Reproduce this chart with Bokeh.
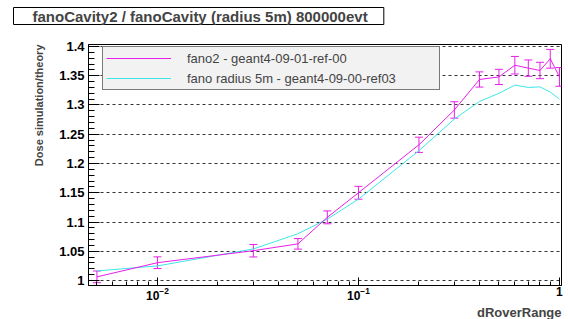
from bokeh.plotting import figure
from bokeh.models import (ColumnDataSource, Whisker, TeeHead, Title, Legend, LegendItem,
                          LogTicker, SingleIntervalTicker, CustomJSTickFormatter, Range1d)
from bokeh.embed import file_html
from bokeh.resources import INLINE

# ---- data ----
x_fano2 = [0.005, 0.01, 0.03, 0.05, 0.07, 0.1, 0.2, 0.3, 0.4, 0.5, 0.6, 0.7, 0.8, 0.9, 1.0]
y_fano2 = [1.0063, 1.0305, 1.051, 1.0627, 1.108, 1.150, 1.232, 1.2915, 1.3436, 1.348,
           1.368, 1.363, 1.359, 1.379, 1.348]
e_fano2 = [0.010, 0.010, 0.0107, 0.009, 0.011, 0.011, 0.013, 0.014, 0.013, 0.013,
           0.015, 0.014, 0.014, 0.016, 0.016]

x_fano = [0.005, 0.01, 0.03, 0.05, 0.07, 0.1, 0.2, 0.3, 0.4, 0.5, 0.6, 0.7, 0.8, 0.9, 1.0]
y_fano = [1.0164, 1.025, 1.054, 1.080, 1.105, 1.139, 1.222, 1.276, 1.306, 1.320,
          1.334, 1.330, 1.331, 1.322, 1.310]

label_fano2 = "fano2 - geant4-09-01-ref-00"
label_fano = "fano radius 5m - geant4-09-00-ref03"
title_text = "fanoCavity2 / fanoCavity (radius 5m)  800000evt"
x_title = "dRoverRange"
y_title = "Dose simulation/theory"

MAGENTA = "#e81ee8"
CYAN = "#3ee6e6"
FONT = "Liberation Sans"

p = figure(width=568, height=319, x_axis_type="log",
           x_range=Range1d(10 ** -2.343, 10 ** 0.0102),
           y_range=Range1d(0.99153, 1.40339),
           output_backend="svg", toolbar_location=None,
           min_border_left=88, min_border_top=44, min_border_right=7, min_border_bottom=32)
p.background_fill_color = "white"
p.border_fill_color = "white"
p.outline_line_color = "black"
p.outline_line_width = 1

# axes
p.xaxis.ticker = LogTicker(num_minor_ticks=10)
p.xaxis.major_label_overrides = {1: "1"}
p.yaxis.ticker = SingleIntervalTicker(interval=0.05, num_minor_ticks=5)
p.yaxis.formatter = CustomJSTickFormatter(
    code="return tick.toFixed(2).replace(/0+$/, '').replace(/\\.$/, '');")
for ax in (p.xaxis, p.yaxis):
    ax.major_tick_out = 0
    ax.minor_tick_out = 0
    ax.axis_line_color = "black"
    ax.major_tick_line_color = "black"
    ax.minor_tick_line_color = "black"
    ax.major_label_text_font = FONT
    ax.major_label_text_font_style = "bold"
    ax.major_label_text_font_size = "13px"
    ax.major_label_text_color = "black"
p.xaxis.major_label_text_font_size = "12px"
p.xaxis.major_tick_in = 8
p.xaxis.minor_tick_in = 4
p.yaxis.major_tick_in = 11
p.yaxis.minor_tick_in = 6
p.yaxis.major_label_standoff = 4
p.xaxis.major_label_standoff = 1

p.xgrid.grid_line_color = None
p.ygrid.grid_line_color = "#333333"
p.ygrid.grid_line_dash = "3 3"
p.ygrid.grid_line_width = 1

# data
src2 = ColumnDataSource(dict(x=x_fano2, y=y_fano2,
                             lo=[a - b for a, b in zip(y_fano2, e_fano2)],
                             hi=[a + b for a, b in zip(y_fano2, e_fano2)]))
src1 = ColumnDataSource(dict(x=x_fano, y=y_fano))

r1 = p.line("x", "y", source=src1, line_color=CYAN, line_width=1)
r2 = p.line("x", "y", source=src2, line_color=MAGENTA, line_width=1)
w = Whisker(base="x", upper="hi", lower="lo", source=src2, dimension="height",
            line_color=MAGENTA, line_width=1,
            upper_head=TeeHead(size=8, line_color=MAGENTA, line_width=1),
            lower_head=TeeHead(size=8, line_color=MAGENTA, line_width=1))
p.add_layout(w)

legend = Legend(items=[LegendItem(label=label_fano2, renderers=[r2]),
                       LegendItem(label=label_fano, renderers=[r1])],
                location=(14, 195), padding=3, margin=0, spacing=4,
                glyph_width=65, glyph_height=16, label_height=16, label_width=249,
                label_standoff=16, label_text_font=FONT, label_text_font_size="13px",
                background_fill_color="#f2f2f2", background_fill_alpha=1,
                border_line_color="black", border_line_width=1)
p.add_layout(legend, "center")

# titles: a blank spacer next to the frame pushes the boxed title upwards
spacer = Title(text=" ", standoff=4, text_font=FONT, text_font_size="12px")
p.add_layout(spacer, "above")
t = Title(text=title_text, align="left", offset=-75, standoff=0,
          text_font=FONT, text_font_style="bold", text_font_size="15px",
          padding=dict(left=19, right=12, top=0, bottom=0),
          border_line_color="black", border_line_width=1,
          background_fill_color="white")
p.add_layout(t, "above")

yt = Title(text=y_title, align="right", standoff=24,
           text_font=FONT, text_font_style="bold", text_font_size="11px")
p.add_layout(yt, "left")

xt = Title(text=x_title, align="right", standoff=0,
           text_font=FONT, text_font_style="bold", text_font_size="13px")
p.add_layout(xt, "below")

open("out.html", "w").write(file_html(p, INLINE))
